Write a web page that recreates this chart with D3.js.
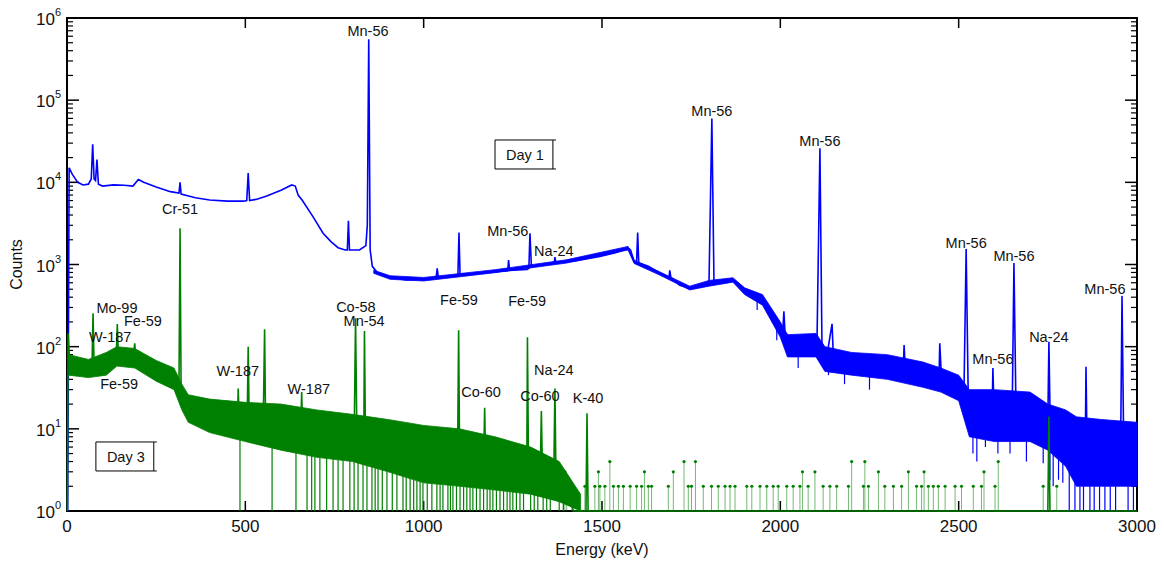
<!DOCTYPE html>
<html>
<head>
<meta charset="utf-8">
<script src="https://cdn.jsdelivr.net/npm/d3@7"></script>
<style>
  body { margin: 0; background: #fff; }
  text { font-family: Arial, "Liberation Sans", Helvetica, sans-serif; fill: #111; }
</style>
</head>
<body>
<script>
//Day 1 spectrum (energy in keV, counts)
var day1Energy = [2, 6, 15, 30, 45, 60, 68, 72, 76, 80, 84, 88, 100, 130, 160, 185, 200, 215, 250, 290, 314, 317, 320, 360, 400, 450, 495, 504, 508, 512, 530, 560, 600, 630, 640, 648, 660, 690, 718, 740, 760, 780, 786, 789, 792, 820, 838, 842, 846, 850, 856, 870, 906, 950, 1000, 1035, 1038, 1041, 1080, 1096, 1099, 1102, 1150, 1200, 1236, 1238, 1241, 1290, 1295, 1298, 1302, 1340, 1366, 1368, 1371, 1420, 1494, 1540, 1573, 1580, 1590, 1597, 1600, 1603, 1630, 1662, 1688, 1690, 1693, 1718, 1746, 1790, 1800, 1808, 1814, 1840, 1867, 1880, 1900, 1915, 1934, 1960, 1999, 2007, 2010, 2013, 2040, 2070, 2092, 2103, 2111, 2117, 2130, 2145, 2149, 2200, 2280, 2335, 2345, 2347, 2350, 2400, 2445, 2447, 2452, 2500, 2515, 2521, 2527, 2560, 2594, 2596, 2599, 2650, 2655, 2661, 2700, 2750, 2753, 2757, 2800, 2855, 2857, 2860, 2900, 2954, 2958, 2963, 3000];
var day1Counts = [1, 15000, 12500, 10000, 9300, 9500, 11000, 29000, 11000, 10500, 19000, 9500, 9000, 9300, 9200, 9000, 10800, 10000, 8800, 7700, 7400, 10000, 7200, 6500, 6100, 5900, 5900, 6000, 13000, 6000, 6200, 6800, 8000, 9300, 9000, 7000, 6000, 3800, 2400, 1900, 1600, 1500, 1500, 3400, 1500, 1500, 1700, 3000, 550000, 1500, 950, 800, 700, 650, 660, 700, 900, 700, 730, 740, 2450, 760, 780, 820, 840, 1130, 850, 870, 900, 2400, 950, 1000, 1050, 1230, 1050, 1100, 1250, 1400, 1590, 1500, 1100, 1070, 2450, 1050, 950, 790, 700, 850, 700, 560, 515, 560, 600, 60000, 600, 640, 650, 580, 480, 450, 390, 300, 160, 160, 270, 150, 110, 110, 120, 130, 26000, 80, 75, 190, 70, 63, 60, 55, 60, 105, 58, 48, 43, 110, 40, 32, 30, 1540, 22, 17, 17, 55, 17, 15, 1040, 14, 13, 12, 115, 9, 7, 6, 57, 6, 5.5, 5.5, 415, 5, 5];

//Day 1 noise band (lower and upper edge)
var day1NoiseEnergy = [860, 906, 1000, 1200, 1400, 1573, 1590, 1660, 1746, 1800, 1867, 1900, 1950, 2000, 2020, 2100, 2125, 2200, 2300, 2400, 2450, 2500, 2530, 2600, 2700, 2750, 2800, 2830, 2900, 3000];
var day1NoiseLow = [780, 660, 630, 795, 1040, 1500, 1030, 750, 490, 545, 610, 430, 320, 130, 75, 75, 50, 45, 40, 32, 28, 22, 8, 7, 7, 5.5, 3.5, 2, 2, 2];
var day1NoiseHigh = [850, 730, 695, 865, 1140, 1660, 1120, 820, 545, 640, 690, 520, 430, 200, 140, 145, 100, 85, 80, 65, 55, 45, 30, 30, 28, 20, 17, 14, 13, 12];

//Day 1 channels that dip below the band
var day1DropEnergy = [1935, 1990, 2050, 2135, 2180, 2250, 2540, 2551, 2575, 2610, 2644, 2690, 2737, 2756, 2765, 2780, 2792, 2810, 2826, 2840, 2850, 2868, 2880, 2895, 2910, 2925, 2940, 2975, 2990];
var day1DropCounts = [280, 120, 55, 45, 35, 30, 5, 4, 6, 5, 5, 4, 3.8, 2.4, 2, 2.4, 2.2, 1, 1, 1, 1, 1, 1, 1, 1, 1, 1, 1, 1];

//Day 3 spectrum
var day3Energy = [1, 3, 8, 30, 60, 70, 73, 76, 100, 120, 138, 141, 144, 165, 185, 190, 193, 210, 252, 298, 314, 317, 320, 340, 392, 430, 478, 480, 483, 505, 508, 511, 550, 554, 557, 600, 655, 658, 661, 700, 750, 805, 809, 813, 832, 834, 837, 900, 1000, 1095, 1098, 1101, 1168, 1171, 1174, 1250, 1289, 1291, 1294, 1327, 1330, 1333, 1365, 1368, 1371, 1400, 1420, 1455, 1458, 1461, 2750, 2753, 2756, 3000];
var day3Counts = [1, 145, 62, 58, 52, 55, 255, 55, 58, 70, 74, 188, 78, 80, 72, 110, 68, 55, 47, 38, 36, 2760, 24, 20, 15, 13, 12, 31, 12, 11, 100, 11, 10, 163, 10, 9, 8.5, 28, 8, 7.5, 7, 6.5, 222, 6.5, 6.5, 155, 6, 5.5, 4.5, 4, 158, 4, 3.5, 18, 3.5, 3, 3, 130, 3, 3, 16.5, 3, 3, 31, 2.5, 2, 1, 1, 15.5, 1, 1, 14, 1, 1];

//Day 3 noise band
var day3NoiseEnergy = [5, 60, 110, 140, 190, 250, 300, 322, 340, 400, 500, 600, 700, 800, 900, 1000, 1100, 1200, 1300, 1380, 1440];
var day3NoiseLow = [45, 42, 45, 58, 55, 38, 30, 17, 12, 9, 7, 5.5, 4.5, 4, 3, 2.2, 2, 1.8, 1.6, 1.3, 1];
var day3NoiseHigh = [80, 70, 85, 100, 95, 68, 55, 35, 26, 23, 21, 20, 17, 15, 13, 11, 10, 8, 6, 4, 1.6];

//Day 3 channels that fall to a single count
var day3DropEnergy = [485, 575, 642, 673, 686, 695, 709, 728, 746, 760, 774, 793, 805, 816, 830, 841, 855, 864, 872, 884, 897, 912, 925, 942, 951, 962, 972, 981, 990, 998, 1010, 1023, 1037, 1046, 1054, 1068, 1075, 1082, 1092, 1102, 1112, 1121, 1130, 1138, 1148, 1158, 1168, 1178, 1186, 1194, 1204, 1214, 1224, 1234, 1242, 1250, 1260, 1270, 1280, 1300, 1310, 1320, 1335, 1345, 1355, 1380, 1392];

//Day 3 isolated channels above one count
var day3SparseEnergy = [1391, 1396, 1401, 1415, 1452, 1480, 1490, 1494, 1508, 1522, 1532, 1546, 1560, 1579, 1597, 1611, 1619, 1630, 1639, 1686, 1700, 1730, 1742, 1751, 1762, 1784, 1807, 1826, 1845, 1859, 1873, 1906, 1920, 1943, 1962, 1980, 1994, 2018, 2036, 2055, 2062, 2078, 2097, 2120, 2139, 2158, 2191, 2200, 2233, 2237, 2247, 2275, 2293, 2317, 2340, 2359, 2382, 2396, 2403, 2415, 2429, 2443, 2462, 2490, 2508, 2541, 2564, 2571, 2602, 2611, 2737, 2775];
var day3SparseCounts = [2, 3, 2, 2, 2, 2, 3, 2, 2, 4, 2, 2, 2, 2, 2, 2, 3, 2, 2, 2, 3, 4, 2, 2, 4, 2, 2, 2, 2, 2, 2, 2, 2, 2, 2, 2, 2, 2, 2, 2, 3, 2, 3, 2, 2, 2, 2, 4, 2, 4, 2, 3, 2, 2, 2, 3, 2, 2, 3, 2, 2, 2, 2, 2, 2, 2, 2, 3, 2, 4, 2, 2];

//peak labels (text, energy, counts of the label baseline)
var labelText = ["Mn-56", "Cr-51", "Mn-56", "Na-24", "Fe-59", "Fe-59", "Mn-56", "Mn-56", "Mn-56", "Mn-56", "Mn-56", "Mn-56", "Na-24",
                 "Mo-99", "Fe-59", "W-187", "Fe-59", "W-187", "W-187", "Co-58", "Mn-54", "Co-60", "Na-24", "Co-60", "K-40"];
var labelEnergy = [844, 317, 1236, 1365, 1099, 1290, 1808, 2111, 2521, 2655, 2910, 2596, 2753,
                   140, 213, 121, 146, 479, 678, 810, 833, 1161, 1365, 1326, 1461];
var labelCounts = [604000, 4110, 2220, 1270, 321, 312, 64100, 27700, 1590, 1100, 437, 61.5, 114,
                   257, 178, 114, 30.5, 44, 26.5, 264, 178, 24.4, 45.2, 21.8, 20.6];

//boxed series names
var seriesName = ["Day 1", "Day 3"];
var seriesNameEnergy = [1284, 165];
var seriesNameCounts = [18700, 3.95];

var xTicks = [0, 500, 1000, 1500, 2000, 2500, 3000];
var yDecades = [0, 1, 2, 3, 4, 5, 6];

window.onload = setChart;

function setChart(){

    //svg frame and plot box
    var width = 1164,
        height = 565,
        left = 67, right = 1137, top = 18, bottom = 511;

    var svg = d3.select("body")
        .append("svg")
        .attr("width", width)
        .attr("height", height);

    var x = d3.scaleLinear().domain([0, 3000]).range([left, right]);
    var y = d3.scaleLog().domain([1, 1e6]).range([bottom, top]);

    //axis box
    svg.append("rect")
        .attr("x", left).attr("y", top)
        .attr("width", right - left).attr("height", bottom - top)
        .attr("fill", "none").attr("stroke", "#000").attr("stroke-width", 2);

    //x ticks, inward on bottom and top
    xTicks.forEach(function(t){
        svg.append("line").attr("x1", x(t)).attr("x2", x(t)).attr("y1", bottom).attr("y2", bottom - 10)
            .attr("stroke", "#000").attr("stroke-width", 1.5);
        svg.append("line").attr("x1", x(t)).attr("x2", x(t)).attr("y1", top).attr("y2", top + 10)
            .attr("stroke", "#000").attr("stroke-width", 1.5);
        svg.append("text").attr("x", x(t)).attr("y", 532)
            .attr("text-anchor", "middle").attr("font-size", "17px").text(t);
    });

    //y ticks, decades and minor ticks on both sides
    yDecades.forEach(function(d){
        var v = Math.pow(10, d);
        [left, right].forEach(function(side){
            var dir = side === left ? 1 : -1;
            svg.append("line").attr("x1", side).attr("x2", side + dir * 12).attr("y1", y(v)).attr("y2", y(v))
                .attr("stroke", "#000").attr("stroke-width", 1.5);
            if (d < 6) {
                for (var m = 2; m < 10; m++) {
                    svg.append("line").attr("x1", side).attr("x2", side + dir * 6)
                        .attr("y1", y(m * v)).attr("y2", y(m * v))
                        .attr("stroke", "#000").attr("stroke-width", 1.2);
                }
            }
        });
        var lab = svg.append("text").attr("x", 61).attr("y", y(v) + 7)
            .attr("text-anchor", "end").attr("font-size", "17px");
        lab.append("tspan").text("10");
        lab.append("tspan").attr("dy", -9).attr("font-size", "11px").text(d);
    });

    //axis titles
    svg.append("text").attr("x", (left + right) / 2).attr("y", 555)
        .attr("text-anchor", "middle").attr("font-size", "16px").text("Energy (keV)");
    svg.append("text").attr("transform", "translate(22," + ((top + bottom) / 2) + ") rotate(-90)")
        .attr("text-anchor", "middle").attr("font-size", "16px").text("Counts");

    //--- Day 1 (blue)
    var blue = "#0000ff", green = "#008000";

    var band = d3.area()
        .x(function(d){ return x(d[0]); })
        .y0(function(d){ return y(d[1]); })
        .y1(function(d){ return y(d[2]); });

    var line = d3.line()
        .x(function(d){ return x(d[0]); })
        .y(function(d){ return y(d[1]); });

    svg.append("path")
        .datum(day1Energy.map(function(e, i){ return [e, day1Counts[i]]; }))
        .attr("d", line).attr("fill", "none").attr("stroke", blue).attr("stroke-width", 1.6);

    //drops from the noise band
    var day1Edge = d3.scaleLinear().domain(day1NoiseEnergy).range(day1NoiseLow);
    svg.selectAll(".drop1")
        .data(day1DropEnergy)
        .enter()
        .append("line")
        .attr("class", "drop1")
        .attr("x1", function(d){ return x(d); }).attr("x2", function(d){ return x(d); })
        .attr("y1", function(d, i){ return y(day1DropCounts[i]); })
        .attr("y2", function(d){ return y(day1Edge(d)); })
        .attr("stroke", blue).attr("stroke-width", 1.2);

    svg.append("path")
        .datum(day1NoiseEnergy.map(function(e, i){ return [e, day1NoiseLow[i], day1NoiseHigh[i]]; }))
        .attr("d", band).attr("fill", blue).attr("stroke", blue).attr("stroke-width", 0.8);

    //--- Day 3 (green)
    var day3Edge = d3.scaleLinear().domain(day3NoiseEnergy).range(day3NoiseLow);
    svg.selectAll(".drop3")
        .data(day3DropEnergy)
        .enter()
        .append("line")
        .attr("class", "drop3")
        .attr("x1", function(d){ return x(d); }).attr("x2", function(d){ return x(d); })
        .attr("y1", y(1))
        .attr("y2", function(d){ return y(day3Edge(d)); })
        .attr("stroke", green).attr("stroke-width", 1.2);

    svg.selectAll(".sparse")
        .data(day3SparseEnergy)
        .enter()
        .append("line")
        .attr("class", "sparse")
        .attr("x1", function(d){ return x(d); }).attr("x2", function(d){ return x(d); })
        .attr("y1", y(1))
        .attr("y2", function(d, i){ return y(day3SparseCounts[i]); })
        .attr("stroke", green).attr("stroke-opacity", 0.55).attr("stroke-width", 1);

    svg.selectAll(".dot")
        .data(day3SparseEnergy)
        .enter()
        .append("circle")
        .attr("class", "dot")
        .attr("cx", function(d){ return x(d); })
        .attr("cy", function(d, i){ return y(day3SparseCounts[i]); })
        .attr("r", 1.6)
        .attr("fill", green);

    svg.append("path")
        .datum(day3Energy.map(function(e, i){ return [e, day3Counts[i]]; }))
        .attr("d", line).attr("fill", "none").attr("stroke", green).attr("stroke-width", 1.6);

    svg.append("path")
        .datum(day3NoiseEnergy.map(function(e, i){ return [e, day3NoiseLow[i], day3NoiseHigh[i]]; }))
        .attr("d", band).attr("fill", green).attr("stroke", green).attr("stroke-width", 0.8);

    //peak labels
    svg.selectAll(".peak")
        .data(labelText)
        .enter()
        .append("text")
        .attr("class", "peak")
        .attr("x", function(d, i){ return x(labelEnergy[i]); })
        .attr("y", function(d, i){ return y(labelCounts[i]); })
        .attr("text-anchor", "middle")
        .attr("font-size", "14.5px")
        .text(function(d){ return d; });

    //boxed Day labels
    seriesName.forEach(function(n, i){
        var t = svg.append("text")
            .attr("x", x(seriesNameEnergy[i]))
            .attr("y", y(seriesNameCounts[i]))
            .attr("text-anchor", "middle")
            .attr("font-size", "14.5px")
            .text(n);
        var b = t.node().getBBox();
        var bx = b.x - 11, by = b.y - 7, bw = b.width + 20, bh = b.height + 13;
        svg.append("path")
            .attr("d", "M" + (bx + bw) + "," + by + "H" + bx + "V" + (by + bh) + "H" + (bx + bw) + "V" + by
                + "M" + (bx + bw) + "," + by + "h3M" + (bx + bw) + "," + (by + bh) + "h3")
            .attr("fill", "none").attr("stroke", "#000").attr("stroke-width", 1);
    });
}
</script>
</body>
</html>
